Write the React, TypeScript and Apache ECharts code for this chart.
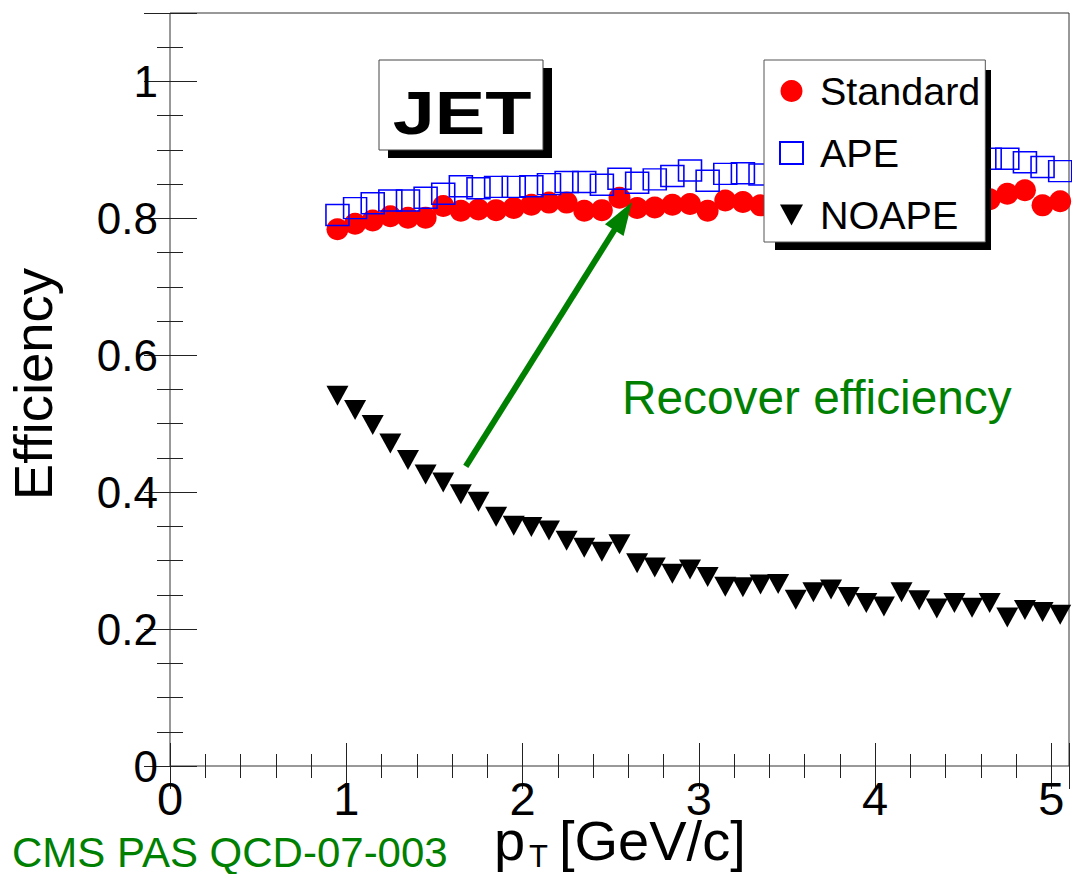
import React, { useEffect, useRef } from "react";
import * as echarts from "echarts";

// ---- data ----
const pT = [
  0.95, 1.05, 1.15, 1.25, 1.35, 1.45, 1.55, 1.65, 1.75, 1.85,
  1.95, 2.05, 2.15, 2.25, 2.35, 2.45, 2.55, 2.65, 2.75, 2.85,
  2.95, 3.05, 3.15, 3.25, 3.35, 3.45, 3.55, 3.65, 3.75, 3.85,
  3.95, 4.05, 4.15, 4.25, 4.35, 4.45, 4.55, 4.65, 4.75, 4.85,
  4.95, 5.05,
];
const standard = [
  0.784, 0.792, 0.797, 0.803, 0.801, 0.801, 0.818, 0.811, 0.813, 0.812,
  0.815, 0.82, 0.823, 0.823, 0.811, 0.812, 0.83, 0.815, 0.816, 0.82,
  0.821, 0.811, 0.826, 0.824, 0.819, 0.822, 0.825, 0.82, 0.826, 0.823,
  0.828, 0.824, 0.827, 0.83, 0.826, 0.829, 0.832, 0.828, 0.836, 0.841,
  0.819, 0.825,
];
const ape = [
  0.805, 0.815, 0.822, 0.826, 0.826, 0.83, 0.836, 0.847, 0.844, 0.846,
  0.846, 0.847, 0.85, 0.853, 0.853, 0.849, 0.858, 0.852, 0.857, 0.862,
  0.87, 0.855, 0.865, 0.866, 0.864, 0.868, 0.87, 0.872, 0.869, 0.874,
  0.876, 0.873, 0.878, 0.88, 0.877, 0.882, 0.884, 0.887, 0.887, 0.882,
  0.875, 0.869,
];
const noape = [
  0.541, 0.52, 0.498, 0.471, 0.447, 0.426, 0.414, 0.397, 0.386, 0.364,
  0.351, 0.349, 0.344, 0.329, 0.319, 0.313, 0.324, 0.296, 0.29, 0.281,
  0.287, 0.276, 0.262, 0.261, 0.265, 0.266, 0.243, 0.254, 0.258, 0.247,
  0.238, 0.233, 0.254, 0.242, 0.23, 0.238, 0.231, 0.238, 0.217, 0.228,
  0.225, 0.221,
];
const seriesNames = ["Standard", "APE", "NOAPE"];
const xTickLabels = ["0", "1", "2", "3", "4", "5"];
const yTickLabels = ["0", "0.2", "0.4", "0.6", "0.8", "1"];
const arrowTail = [1.678, 0.4376];
const arrowTip = [2.62, 0.8235];

const FONT = "'Liberation Sans', Arial, Helvetica, sans-serif";
const GREEN = "#008000";
const TICK = "#222";

function xAxis(pos: string, interval: number, len: number, labels: boolean) {
  return {
    type: "value",
    position: pos,
    min: 0,
    max: 5.1,
    interval,
    axisLine: { show: false },
    splitLine: { show: false },
    axisTick: { show: true, inside: true, length: len, lineStyle: { color: TICK, width: 1 } },
    axisLabel: labels
      ? {
          show: true,
          margin: 14,
          fontSize: 47,
          lineHeight: 36,
          color: "#000",
          fontFamily: FONT,
          formatter: (v: number) => {
            const r = Math.round(v);
            return Math.abs(v - r) < 1e-6 ? xTickLabels[r] ?? "" : "";
          },
        }
      : { show: false },
  };
}

function yAxis(pos: string, interval: number, len: number, labels: boolean) {
  return {
    type: "value",
    position: pos,
    min: 0,
    max: 1.1,
    interval,
    axisLine: { show: false },
    splitLine: { show: false },
    axisTick: { show: true, inside: true, length: len, lineStyle: { color: TICK, width: 1 } },
    axisLabel: labels
      ? {
          show: true,
          margin: 12,
          fontSize: 44,
          lineHeight: 36,
          color: "#000",
          fontFamily: FONT,
          formatter: (v: number) => {
            const k = Math.round(v * 5);
            return Math.abs(v * 5 - k) < 1e-6 ? yTickLabels[k] ?? "" : "";
          },
        }
      : { show: false },
  };
}

export default function App() {
  const ref = useRef<HTMLDivElement>(null);
  useEffect(() => {
    if (!ref.current) return;
    const chart = echarts.init(ref.current, undefined, { renderer: "svg" });
    const option: any = {
      animation: false,
      textStyle: { fontFamily: FONT },
      grid: {
        left: 170,
        top: 13,
        right: 1,
        bottom: 108,
        show: true,
        borderColor: "#333",
        borderWidth: 1,
        backgroundColor: "#fff",
      },
      xAxis: [
        xAxis("bottom", 0.2, 12, false),
        xAxis("bottom", 1, 23, true),
        xAxis("top", 0.2, 12, false),
        xAxis("top", 1, 23, false),
      ],
      yAxis: [
        yAxis("left", 0.05, 13, false),
        yAxis("left", 0.2, 27, true),
        yAxis("right", 0.05, 13, false),
        yAxis("right", 0.2, 26, false),
      ],
      legend: {
        orient: "vertical",
        left: 764,
        top: 60,
        z: 10,
        selectedMode: false,
        backgroundColor: "#fff",
        borderColor: "#555",
        borderWidth: 1,
        borderRadius: 0,
        padding: [11, 5, 7, 15],
        itemGap: 22,
        itemWidth: 23,
        itemHeight: 22,
        textStyle: { fontSize: 39.5, color: "#000", fontFamily: FONT, padding: [0, 0, 0, 12] },
        data: [
          { name: seriesNames[0], icon: "circle" },
          { name: seriesNames[1], icon: "rect" },
          { name: seriesNames[2], icon: "path://M0,0 L22,0 L11,20 Z" },
        ],
      },
      series: [
        {
          name: seriesNames[0],
          type: "scatter",
          xAxisIndex: 0,
          yAxisIndex: 0,
          symbol: "circle",
          symbolSize: 22,
          itemStyle: { color: "#ff0000", opacity: 1 },
          data: pT.map((x, i) => [x, standard[i]]),
        },
        {
          name: seriesNames[1],
          type: "scatter",
          xAxisIndex: 0,
          yAxisIndex: 0,
          symbol: "rect",
          symbolSize: [23, 21],
          itemStyle: { color: "rgba(0,0,0,0)", borderColor: "#0000ff", borderWidth: 1.5, opacity: 1 },
          data: pT.map((x, i) => [x, ape[i]]),
        },
        {
          name: seriesNames[2],
          type: "scatter",
          xAxisIndex: 0,
          yAxisIndex: 0,
          symbol: "triangle",
          symbolRotate: 180,
          symbolSize: [22, 20],
          itemStyle: { color: "#000", opacity: 1 },
          data: pT.map((x, i) => [x, noape[i]]),
        },
      ],
    };
    chart.setOption(option);

    const tail = chart.convertToPixel({ xAxisIndex: 0, yAxisIndex: 0 } as any, arrowTail) as number[];
    const tip = chart.convertToPixel({ xAxisIndex: 0, yAxisIndex: 0 } as any, arrowTip) as number[];
    const dx = tip[0] - tail[0];
    const dy = tip[1] - tail[1];
    const L = Math.sqrt(dx * dx + dy * dy);
    const ux = dx / L;
    const uy = dy / L;
    const nx = -uy;
    const ny = ux;
    const headLen = 33;
    const headHalf = 11;
    const bx = tip[0] - ux * headLen;
    const by = tip[1] - uy * headLen;

    chart.setOption({
      graphic: [
        // legend shadow
        { type: "rect", z: 3, shape: { x: 775, y: 70, width: 216, height: 180 }, style: { fill: "#000" } },
        // JET box
        { type: "rect", z: 3, shape: { x: 388, y: 68, width: 164, height: 90 }, style: { fill: "#000" } },
        { type: "rect", z: 4, shape: { x: 379, y: 60, width: 164, height: 90 }, style: { fill: "#fff", stroke: "#444", lineWidth: 1 } },
        {
          type: "text",
          z: 5,
          x: 462,
          y: 112,
          scaleX: 1.22,
          style: { text: "JET", fill: "#000", font: `bold 62px ${FONT}`, textAlign: "center", textVerticalAlign: "middle" },
        },
        // arrow
        {
          type: "line",
          z: 6,
          shape: { x1: tail[0], y1: tail[1], x2: bx + ux * 2, y2: by + uy * 2 },
          style: { stroke: GREEN, lineWidth: 6 },
        },
        {
          type: "polygon",
          z: 6,
          shape: {
            points: [
              [tip[0], tip[1]],
              [bx + nx * headHalf, by + ny * headHalf],
              [bx - nx * headHalf, by - ny * headHalf],
            ],
          },
          style: { fill: GREEN },
        },
        // annotation texts
        { type: "text", z: 6, x: 622, y: 397, style: { text: "Recover efficiency", fill: GREEN, font: `47.8px ${FONT}`, textAlign: "left", textVerticalAlign: "middle" } },
        { type: "text", z: 6, x: 12, y: 852, style: { text: "CMS PAS QCD-07-003", fill: GREEN, font: `42px ${FONT}`, lineHeight: 36, textAlign: "left", textVerticalAlign: "middle" } },
        // axis titles
        { type: "text", z: 6, x: 33, y: 384, rotation: Math.PI / 2, style: { text: "Efficiency", fill: "#000", font: `54.5px ${FONT}`, textAlign: "center", textVerticalAlign: "middle" } },
        { type: "text", z: 6, x: 494, y: 840, style: { text: "p", fill: "#000", font: `56px ${FONT}`, lineHeight: 42, textAlign: "left", textVerticalAlign: "middle" } },
        { type: "text", z: 6, x: 529, y: 856, style: { text: "T", fill: "#000", font: `31px ${FONT}`, lineHeight: 26, textAlign: "left", textVerticalAlign: "middle" } },
        { type: "text", z: 6, x: 559, y: 840, style: { text: "[GeV/c]", fill: "#000", font: `56px ${FONT}`, lineHeight: 42, textAlign: "left", textVerticalAlign: "middle" } },
      ],
    });

    return () => chart.dispose();
  }, []);
  return (
    <div
      ref={ref}
      style={{ position: "absolute", left: 0, top: 0, width: 1072, height: 874, background: "#fff" }}
    />
  );
}
